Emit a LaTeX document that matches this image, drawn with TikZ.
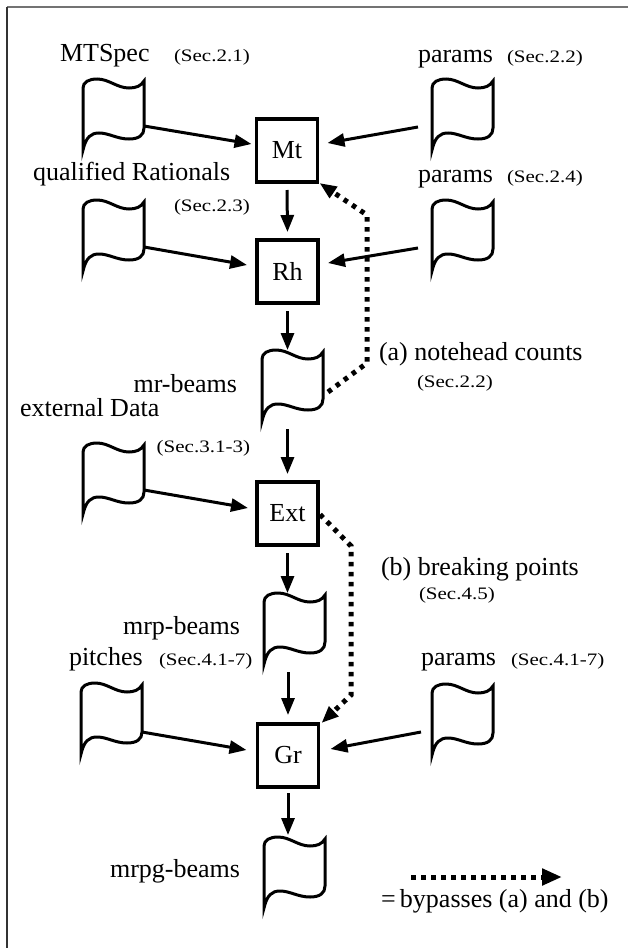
\documentclass[tikz,border=0pt]{standalone}
\usepackage{fontspec}
\setmainfont{Liberation Serif}
\usepackage{graphicx}
\usetikzlibrary{arrows.meta,calc}
\newcommand\smtxt[1]{\scalebox{1.2}[1]{\fontsize{17.5}{20}\selectfont #1}}
\newcommand\docshape[2]{%
  \node[docbox] (#1) at (#2) {};
  \begin{scope}[shift={(#1.north west)}]
    \draw[docline] (0,9) .. controls (0,3) and (6,0) .. (14,0)
      .. controls (26,0) and (34,9) .. (46,9)
      .. controls (53,9) and (58,7) .. (61,2) -- (61,49)
      .. controls (61,56) and (56,60) .. (46,60)
      .. controls (34,60) and (26,54) .. (16,54)
      .. controls (8,54) and (3,58) .. (0,71) -- cycle;
  \end{scope}}
\begin{document}
\begin{tikzpicture}[x=1pt,y=-1pt,
  every node/.style={inner sep=0pt, outer sep=0pt},
  mainlbl/.style={font=\fontsize{26}{30}\selectfont},
  proc/.style={draw, line width=3.5pt, minimum width=61pt, minimum height=63pt, font=\fontsize{26}{30}\selectfont},
  docbox/.style={minimum width=61pt, minimum height=71pt},
  docline/.style={line width=3pt, line join=miter},
  flow/.style={line width=3pt, -{Triangle[length=17pt,width=13pt]}},
  bypass/.style={line width=5pt, dash pattern=on 4.5pt off 5.5pt, -{Triangle[length=17pt,width=13pt]}},
  legendarrow/.style={line width=5pt, dash pattern=on 4.5pt off 5.5pt, -{Triangle[length=20pt,width=16pt]}},
]
\useasboundingbox (0,0) rectangle (628,948);
% frame
\draw[line width=2pt, black!55] (7,7) -- (628,7);
\draw[line width=2pt, black!80] (7,7) -- (7,948);

% process boxes
\node[proc] (Mt)  at (287,150.5) {Mt};
\node[proc] (Rh)  at (287.5,271.5) {Rh};
\node[proc] (Ext) at (287.5,513.5) {Ext};
\node[proc] (Gr)  at (288,755.5) {Gr};

% documents
\docshape{d1}{113.5,114.5}
\docshape{d2}{462.5,114.5}
\docshape{d3}{113.5,235.5}
\docshape{d4}{462.5,235.5}
\docshape{d5}{292.5,385.5}
\docshape{d6}{113.5,478.5}
\docshape{d7}{294.5,628.5}
\docshape{d8}{111.5,718.5}
\docshape{d9}{462.5,719.5}
\docshape{d10}{294.5,872.5}

% labels
\node[mainlbl, anchor=base west] (t1) at (60,61) {MTSpec};
\node[anchor=base west] (s1) at (174,61) {\smtxt{(Sec.2.1)}};
\node[mainlbl, anchor=base west] (t2) at (418,62) {params};
\node[anchor=base west] (s2) at (507,62) {\smtxt{(Sec.2.2)}};
\node[mainlbl, anchor=base west] (t3) at (33,180) {qualified Rationals};
\node[anchor=base west] (s3) at (174,211) {\smtxt{(Sec.2.3)}};
\node[mainlbl, anchor=base west] (t4) at (418,182) {params};
\node[anchor=base west] (s4) at (507,182) {\smtxt{(Sec.2.4)}};
\node[mainlbl, anchor=base east] (t5) at (237,392) {mr-beams};
\node[mainlbl, anchor=base west] (t6) at (20,416) {external Data};
\node[anchor=base east] (s6) at (250,452) {\smtxt{(Sec.3.1-3)}};
\node[mainlbl, anchor=base west] (ta) at (379,360) {(a) notehead counts};
\node[anchor=base west] (sa) at (417,387) {\smtxt{(Sec.2.2)}};
\node[mainlbl, anchor=base west] (tb) at (381,575) {(b) breaking points};
\node[anchor=base west] (sb) at (419,599) {\smtxt{(Sec.4.5)}};
\node[mainlbl, anchor=base east] (t7) at (240,634) {mrp-beams};
\node[mainlbl, anchor=base west] (t8) at (69,665) {pitches};
\node[anchor=base west] (s8) at (159,665) {\smtxt{(Sec.4.1-7)}};
\node[mainlbl, anchor=base west] (t9) at (421,665) {params};
\node[anchor=base west] (s9) at (511,665) {\smtxt{(Sec.4.1-7)}};
\node[mainlbl, anchor=base east] (t10) at (240,877) {mrpg-beams};
\node[mainlbl, anchor=base west] (tl) at (381,907) {=\,bypasses (a) and (b)};

% flows
\draw[flow] ($(d1.north east)+(0,47)$) -- ($(Mt.north west)+(-5,25)$);
\draw[flow] ($(d2.north west)+(-14,48)$) -- ($(Mt.north east)+(10,24)$);
\draw[flow] ($(Mt.south)+(0,8)$) -- ($(Rh.north)+(0,-8)$);
\draw[flow] ($(d3.north east)+(0,47)$) -- ($(Rh.north west)+(-10,25)$);
\draw[flow] ($(d4.north west)+(-14,48)$) -- ($(Rh.north east)+(10,23)$);
\draw[flow] ($(Rh.south)+(0,8)$) -- (Rh.south |- d5.north);
\draw[flow] ($(Ext.north |- d5.south)+(0,8)$) -- ($(Ext.north)+(0,-8)$);
\draw[flow] ($(d6.north east)+(0,47)$) -- ($(Ext.north west)+(-9,26)$);
\draw[flow] ($(Ext.south)+(0,8)$) -- (Ext.south |- d7.north);
\draw[flow] ($(Gr.north |- d7.south)+(0,8)$) -- ($(Gr.north)+(0,-9)$);
\draw[flow] ($(d8.north east)+(0,49)$) -- ($(Gr.north west)+(-11,26)$);
\draw[flow] ($(d9.north west)+(-11,48)$) -- ($(Gr.north east)+(12,25)$);
\draw[flow] ($(Gr.south)+(0,6)$) -- ($(Gr.south |- d10.north)+(0,-2)$);

% bypasses
\coordinate (a1) at (367,363);
\coordinate (a2) at (367,215);
\draw[bypass] ($(d5.north east)+(5,42)$) -- (a1) -- (a2) -- ($(Mt.south east)+(2,1)$);
\coordinate (b1) at (351,546);
\coordinate (b2) at (351,695);
\draw[bypass] ($(Ext.east)+(2,1)$) -- (b1) -- (b2) -- ($(Gr.north east)+(3,-1)$);

% legend
\coordinate (l1) at (411,877);
\coordinate (l2) at (562,877);
\draw[legendarrow] (l1) -- (l2);
\end{tikzpicture}
\end{document}
